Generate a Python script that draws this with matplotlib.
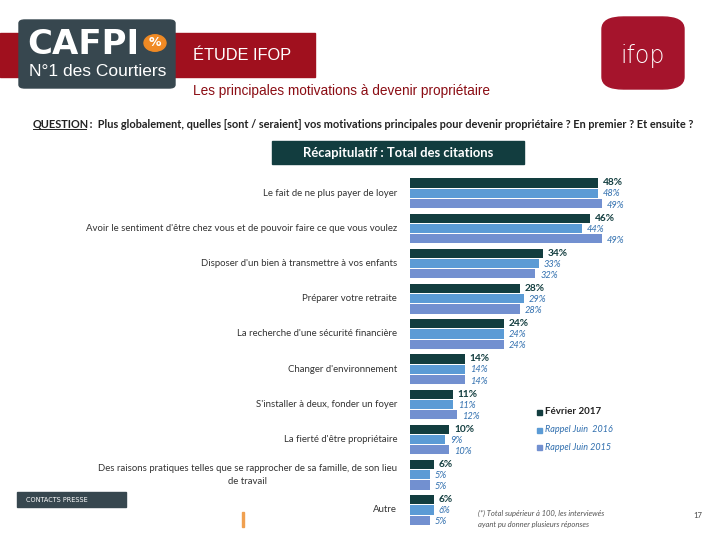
import numpy as np
import matplotlib.pyplot as plt
from matplotlib.patches import Rectangle, FancyBboxPatch, Circle

categories = [
    "Le fait de ne plus payer de loyer",
    "Avoir le sentiment d'être chez vous et de pouvoir faire ce que vous voulez",
    "Disposer d'un bien à transmettre à vos enfants",
    "Préparer votre retraite",
    "La recherche d'une sécurité financière",
    "Changer d'environnement",
    "S'installer à deux, fonder un foyer",
    "La fierté d'être propriétaire",
    "Des raisons pratiques telles que se rapprocher de sa famille, de son lieu\nde travail",
    "Autre",
]
fev_2017 = [48, 46, 34, 28, 24, 14, 11, 10, 6, 6]
juin_2016 = [48, 44, 33, 29, 24, 14, 11, 9, 5, 6]
juin_2015 = [49, 49, 32, 28, 24, 14, 12, 10, 5, 5]
series_names = ["Février 2017", "Rappel Juin  2016", "Rappel Juin 2015"]

W, H = 720, 540
DARK = "#123d3f"
BLUE1 = "#5b9bd5"
BLUE2 = "#7290d0"
LABEL_BLUE = "#2f6eae"
RED = "#a0101e"
SLATE = "#37474f"
FONT = "Lato"

fig = plt.figure(figsize=(7.2, 5.4), dpi=100)


def fx(px):
    return px / W


def fy(py):
    return 1 - py / H


def rect(x0, y0, x1, y1, color, **kw):
    fig.patches.append(Rectangle((fx(x0), fy(y1)), fx(x1 - x0), (y1 - y0) / H,
                                 transform=fig.transFigure, color=color, **kw))


# header
rect(0, 33, 315, 77, RED)
fig.patches.append(FancyBboxPatch((fx(19), fy(88)), fx(156), 68 / H,
                                  boxstyle="round,pad=0,rounding_size=0.008",
                                  transform=fig.transFigure, color=SLATE, mutation_aspect=0.75))
fig.text(fx(27), fy(45), "CAFPI", color="white", fontsize=24.5, fontweight="heavy",
         family="DejaVu Sans", va="center")
fig.patches.append(Circle((fx(155), fy(43)), 11 / W, transform=fig.transFigure, color="#f08a24"))
fig.text(fx(155), fy(43), "%", color="white", fontsize=9, fontweight="bold", ha="center", va="center")
fig.text(fx(29), fy(71), "N°1 des Courtiers", color="white", fontsize=12.5,
         family="Liberation Sans", va="center")
fig.text(fx(193), fy(56), "ÉTUDE IFOP", color="white", fontsize=11.8,
         family="Liberation Sans", va="center")
fig.text(fx(193), fy(91), "Les principales motivations à devenir propriétaire", color="#8b0d14",
         fontsize=9.8, family="Liberation Sans", va="center")

# ifop logo
fig.patches.append(FancyBboxPatch((fx(602), fy(89)), fx(82), 72 / H,
                                  boxstyle="round,pad=0,rounding_size=0.03",
                                  transform=fig.transFigure, color="#a5142c", mutation_aspect=0.75))
fig.text(fx(643), fy(56), "ifop", color="white", fontsize=17, family="DejaVu Sans",
         fontweight="light", ha="center", va="center")

# question
fig.text(fx(33), fy(124), "QUESTION", fontsize=7.9, fontweight="bold", family=FONT,
         va="center", color="#222222")
fig.add_artist(plt.Line2D([fx(33), fx(86)], [fy(129), fy(129)], color="#222222", lw=0.7))
fig.text(fx(87), fy(124), " :  Plus globalement, quelles [sont / seraient] vos motivations principales "
         "pour devenir propriétaire ? En premier ? Et ensuite ?",
         fontsize=7.9, fontweight="bold", family=FONT, va="center", color="#222222")

# title box
rect(272, 141, 524, 164, DARK)
fig.text(fx(398), fy(153), "Récapitulatif : Total des citations", color="white", fontsize=9.4,
         fontweight="bold", family=FONT, ha="center", va="center")

# bars
ax = fig.add_axes([fx(410), fy(527.6), fx(310), 352 / H])
y = np.arange(len(categories))
h = 0.26
off = 0.29
ax.barh(y - off, fev_2017, height=h, color=DARK)
ax.barh(y, juin_2016, height=h, color=BLUE1)
ax.barh(y + off, juin_2015, height=h, color=BLUE2)
ax.set_xlim(0, 310 / 3.92)
ax.set_ylim(len(categories) - 0.5, -0.5)
ax.axis("off")

for i in range(len(categories)):
    ax.text(fev_2017[i] + 1.2, y[i] - off, f"{fev_2017[i]}%", color=DARK, fontsize=7.3,
            fontweight="bold", family=FONT, va="center")
    ax.text(juin_2016[i] + 1.2, y[i] + 0.02, f"{juin_2016[i]}%", color=LABEL_BLUE, fontsize=6.7,
            style="italic", family=FONT, va="center")
    ax.text(juin_2015[i] + 1.2, y[i] + off + 0.05, f"{juin_2015[i]}%", color=LABEL_BLUE, fontsize=6.7,
            style="italic", family=FONT, va="center")
    ax.text(-3.3, y[i], categories[i], ha="right", va="center", fontsize=6.95, family=FONT,
            color="#333333", linespacing=1.5,
            multialignment="center" if "\n" in categories[i] else "right")

# legend
leg_colors = [DARK, BLUE1, BLUE2]
leg_y = [412, 430, 447]
for name, c, ly in zip(series_names, leg_colors, leg_y):
    rect(537, ly - 2.5, 542, ly + 2.5, c)
    if c == DARK:
        fig.text(fx(545), fy(ly), name, fontsize=7, fontweight="bold", family=FONT,
                 va="center", color="#222222")
    else:
        fig.text(fx(545), fy(ly), name, fontsize=6.5, style="italic", family=FONT,
                 va="center", color=LABEL_BLUE)

# footer
rect(17, 492, 126, 507, SLATE)
fig.text(fx(26), fy(499.5), "CONTACTS PRESSE", color="white", fontsize=4.7,
         family="DejaVu Sans", va="center")
rect(242, 512, 244, 527, "#f0a050")
fig.text(fx(478), fy(513), "(*) Total supérieur à 100, les interviewés", fontsize=5.5,
         style="italic", family=FONT, color="#555555", va="center")
fig.text(fx(478), fy(524), "ayant pu donner plusieurs réponses", fontsize=5.5,
         style="italic", family=FONT, color="#555555", va="center")
fig.text(fx(693), fy(515), "17", fontsize=5.5, family=FONT, color="#444444", va="center")

fig.savefig("out.png", dpi=100)
